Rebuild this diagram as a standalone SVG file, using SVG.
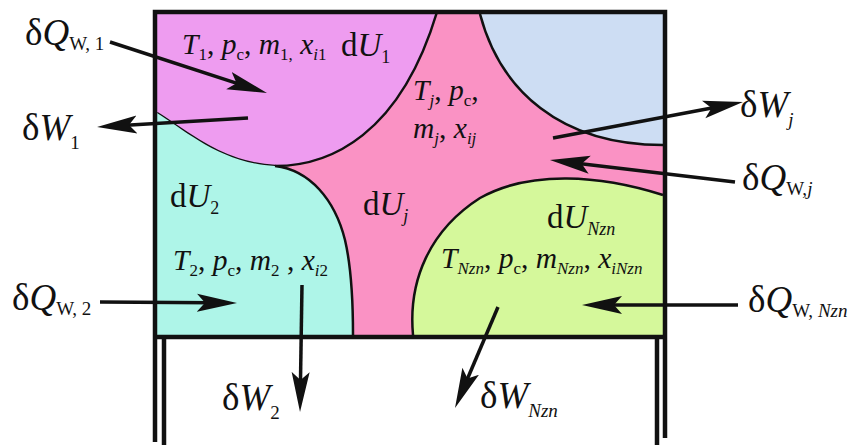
<svg xmlns="http://www.w3.org/2000/svg" width="855" height="445" viewBox="0 0 855 445">
<style>
.t{font-family:"Liberation Serif","Times New Roman",serif;fill:#111}
.i{font-style:italic}
.big{font-size:37px}
.mid{font-size:29.5px}
.du{font-size:33px}
.edge{fill:none;stroke:#111;stroke-width:2.5}
.frame{fill:none;stroke:#111;stroke-width:4.5}
.arr{fill:none;stroke:#111;stroke-width:3.5}
</style>
<defs>
<marker id="ah" markerUnits="userSpaceOnUse" markerWidth="44" markerHeight="22" viewBox="0 -11 44 22" refX="15" refY="0" orient="auto">
<path d="M0,-9 L40,0 L0,9 L8,0 Z" fill="#111"/>
</marker>
</defs>

<g id="zone-j">
<rect x="157" y="14" width="506" height="321" fill="#FA92C4"/>
<text class="t mid" x="413" y="100"><tspan class="i">T</tspan><tspan class="i" font-size="17" dy="6">j</tspan><tspan dy="-6">, </tspan><tspan class="i">p</tspan><tspan font-size="17" dy="6">c</tspan><tspan dy="-6">,</tspan></text>
<text class="t mid" x="413" y="138"><tspan class="i">m</tspan><tspan class="i" font-size="17" dy="6">j</tspan><tspan dy="-6">, </tspan><tspan class="i">x</tspan><tspan class="i" font-size="17" dy="6">ij</tspan></text>
<text class="t du" x="363" y="215">d<tspan class="i">U</tspan><tspan class="i" font-size="18" dy="7">j</tspan></text>
</g>

<g id="zone-4">
<path d="M480,14 C500,90 560,145 663,145 L663,14 Z" fill="#CDDDF3"/>
<path class="edge" d="M480,14 C500,90 560,145 663,145"/>
</g>

<g id="zone-1">
<path d="M157,14 L437,14 C400,135 330,166 275,166 C220,163 185,130 157,113 Z" fill="#EE9CF0"/>
<path class="edge" d="M437,12 C400,135 330,166 275,166 C220,163 185,130 157,113"/>
<text class="t mid" x="182" y="54"><tspan class="i">T</tspan><tspan font-size="17" dy="6">1</tspan><tspan dy="-6">, </tspan><tspan class="i">p</tspan><tspan font-size="17" dy="6">c</tspan><tspan dy="-6">, </tspan><tspan class="i">m</tspan><tspan font-size="17" dy="6">1,</tspan><tspan dy="-6"> </tspan><tspan class="i">x</tspan><tspan font-size="17" dy="6"><tspan class="i">i</tspan>1</tspan></text>
<text class="t du" x="341" y="56">d<tspan class="i">U</tspan><tspan font-size="18" dy="7">1</tspan></text>
</g>

<g id="zone-2">
<path d="M157,113 C185,130 220,163 275,166 C310,170 335,200 345,240 C352,270 353,310 353,335 L157,335 Z" fill="#AEF5E8"/>
<path class="edge" d="M275,166 C310,170 335,200 345,240 C352,270 353,310 353,335"/>
<text class="t du" x="170" y="207">d<tspan class="i">U</tspan><tspan font-size="18" dy="7">2</tspan></text>
<text class="t mid" x="173" y="270"><tspan class="i">T</tspan><tspan font-size="17" dy="6">2</tspan><tspan dy="-6">, </tspan><tspan class="i">p</tspan><tspan font-size="17" dy="6">c</tspan><tspan dy="-6">, </tspan><tspan class="i">m</tspan><tspan font-size="17" dy="6">2</tspan><tspan dy="-6"> , </tspan><tspan class="i">x</tspan><tspan font-size="17" dy="6"><tspan class="i">i</tspan>2</tspan></text>
</g>

<g id="zone-nzn">
<path d="M413,335 C408,280 430,230 480,198 C530,170 600,175 663,195 L663,335 Z" fill="#D5F89B"/>
<path class="edge" d="M413,335 C408,280 430,230 480,198 C530,170 600,175 663,195"/>
<text class="t du" x="547" y="228">d<tspan class="i">U</tspan><tspan class="i" font-size="18" dy="7">Nzn</tspan></text>
<text class="t mid" x="441" y="268"><tspan class="i">T</tspan><tspan class="i" font-size="17" dy="6">Nzn</tspan><tspan dy="-6">, </tspan><tspan class="i">p</tspan><tspan font-size="17" dy="6">c</tspan><tspan dy="-6">, </tspan><tspan class="i">m</tspan><tspan class="i" font-size="17" dy="6">Nzn</tspan><tspan dy="-6">, </tspan><tspan class="i">x</tspan><tspan class="i" font-size="17" dy="6">iNzn</tspan></text>
</g>

<g id="vessel">
<path class="frame" d="M155,442 L155,12 L665,12 L665,438"/>
<path class="frame" d="M157,337 L663,337"/>
<path class="frame" d="M164,337 L164,445"/>
<path class="frame" d="M657,337 L657,445"/>
</g>

<g id="connectors">
<path class="arr" d="M110,42 L243.2,85.3" marker-end="url(#ah)"/>
<path class="arr" d="M248,118 L122,125.5" marker-end="url(#ah)"/>
<path class="arr" d="M553,138 L718.4,106.7" marker-end="url(#ah)"/>
<path class="arr" d="M735,182 L574.8,163" marker-end="url(#ah)"/>
<path class="arr" d="M100,302 L212,302.8" marker-end="url(#ah)"/>
<path class="arr" d="M302,285 L300.4,387" marker-end="url(#ah)"/>
<path class="arr" d="M738,305 L607,305" marker-end="url(#ah)"/>
<path class="arr" d="M498,307 L464.8,385" marker-end="url(#ah)"/>
</g>

<g id="labels">
<text class="t big" x="25" y="45">δ<tspan class="i">Q</tspan><tspan font-size="19" dy="5">W, 1</tspan></text>
<text class="t big" x="22" y="140">δ<tspan class="i">W</tspan><tspan font-size="19" dy="9">1</tspan></text>
<text class="t big" x="740" y="117">δ<tspan class="i">W</tspan><tspan class="i" font-size="19" dy="9">j</tspan></text>
<text class="t big" x="742" y="190">δ<tspan class="i">Q</tspan><tspan font-size="19" dy="5">W,<tspan class="i">j</tspan></tspan></text>
<text class="t big" x="12" y="310">δ<tspan class="i">Q</tspan><tspan font-size="19" dy="5">W, 2</tspan></text>
<text class="t big" x="748" y="312">δ<tspan class="i">Q</tspan><tspan font-size="19" dy="5">W, <tspan class="i">Nzn</tspan></tspan></text>
<text class="t big" x="222" y="410">δ<tspan class="i">W</tspan><tspan font-size="19" dy="9">2</tspan></text>
<text class="t big" x="480" y="408">δ<tspan class="i">W</tspan><tspan class="i" font-size="19" dy="9">Nzn</tspan></text>
</g>
</svg>
